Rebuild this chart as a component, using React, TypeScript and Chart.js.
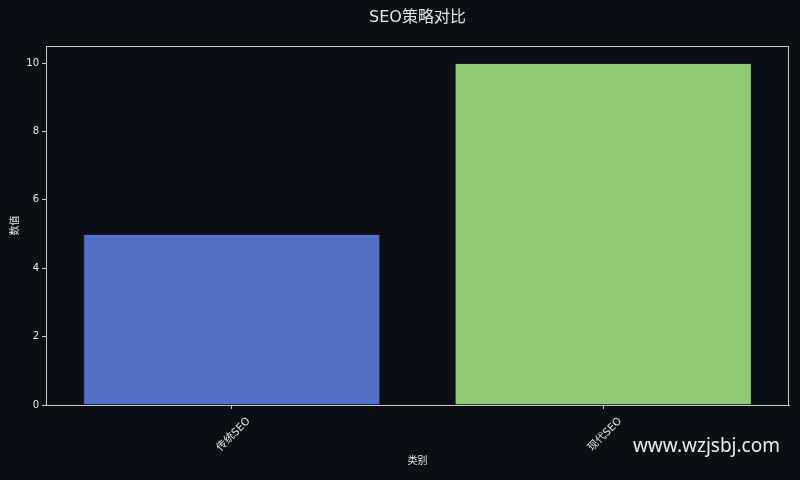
import React, { useEffect, useRef } from 'react';
import { Chart, registerables } from 'chart.js';
import type { ChartConfiguration, Plugin } from 'chart.js';

Chart.register(...registerables);

const categories = ['传统SEO', '现代SEO'];
const values = [5, 10];
const barColors = ['#5470c6', '#91cc75'];
const yTicks = [0, 2, 4, 6, 8, 10];

const BG = '#0b0e14';
const TEXT = '#e6e6e6';
const SPINE = '#c8c8c8';
const FONT = '"DejaVu Sans", "Noto Sans CJK SC", sans-serif';

// draws the full box round the plot area (top and right spines too)
const frame: Plugin<'bar'> = {
  id: 'frame',
  afterDatasetsDraw(chart) {
    const { ctx, chartArea } = chart;
    ctx.save();
    ctx.strokeStyle = SPINE;
    ctx.lineWidth = 1;
    ctx.strokeRect(chartArea.left + 0.5, chartArea.top + 0.5, chartArea.width - 1, chartArea.height);
    ctx.restore();
  },
};

const App: React.FC = () => {
  const canvasRef = useRef<HTMLCanvasElement | null>(null);

  useEffect(() => {
    document.body.style.margin = '0';
    document.body.style.background = BG;
    const canvas = canvasRef.current;
    if (!canvas) return;

    const config: ChartConfiguration<'bar', number[], string> = {
      type: 'bar',
      data: {
        labels: categories,
        datasets: [
          {
            label: '数值',
            data: values,
            backgroundColor: barColors,
            borderColor: 'rgba(30,40,60,0.6)',
            borderWidth: 1,
            barPercentage: 1,
            categoryPercentage: 0.8,
          },
        ],
      },
      options: {
        responsive: false,
        animation: false,
        layout: { padding: { left: 0, right: 11, top: 0, bottom: 0 } },
        plugins: {
          legend: { display: false },
          tooltip: { enabled: false },
          title: {
            display: true,
            text: 'SEO策略对比',
            fullSize: false,
            color: TEXT,
            font: { family: FONT, size: 16, weight: 'normal' },
            padding: { top: 8, bottom: 18.8 },
          },
        },
        scales: {
          x: {
            grid: { offset: false, drawOnChartArea: false, drawTicks: true, tickLength: 4, tickColor: SPINE },
            border: { display: true, color: SPINE },
            ticks: {
              color: TEXT,
              font: { family: FONT, size: 10.5 },
              minRotation: 45,
              maxRotation: 45,
              labelOffset: 17,
              padding: 6,
            },
            title: {
              display: true,
              text: '类别',
              color: TEXT,
              font: { family: FONT, size: 10 },
              padding: { top: 0, bottom: 13 },
            },
            afterFit: (scale) => {
              scale.height = 75;
            },
          },
          y: {
            min: 0,
            max: 10.5,
            grid: { drawOnChartArea: false, drawTicks: true, tickLength: 4, tickColor: SPINE },
            border: { display: true, color: SPINE },
            afterBuildTicks: (scale) => {
              scale.ticks = yTicks.map((v) => ({ value: v }));
            },
            ticks: {
              color: TEXT,
              font: { family: FONT, size: 10 },
              padding: 3,
            },
            title: {
              display: true,
              text: '数值',
              color: TEXT,
              font: { family: FONT, size: 10 },
              padding: { top: 9, bottom: 0 },
            },
            afterFit: (scale) => {
              scale.width = 46;
            },
          },
        },
      },
      plugins: [frame],
    };

    const chart = new Chart(canvas, config);
    return () => chart.destroy();
  }, []);

  return (
    <div style={{ position: 'relative', width: 800, height: 480, background: BG }}>
      <canvas ref={canvasRef} width={800} height={480} style={{ display: 'block' }} />
      <div
        style={{
          position: 'absolute',
          right: 20,
          top: 433,
          color: '#ececec',
          fontFamily: '"Noto Sans", sans-serif',
          fontSize: 19,
          lineHeight: '24px',
        }}
      >
        www.wzjsbj.com
      </div>
    </div>
  );
};

export default App;
